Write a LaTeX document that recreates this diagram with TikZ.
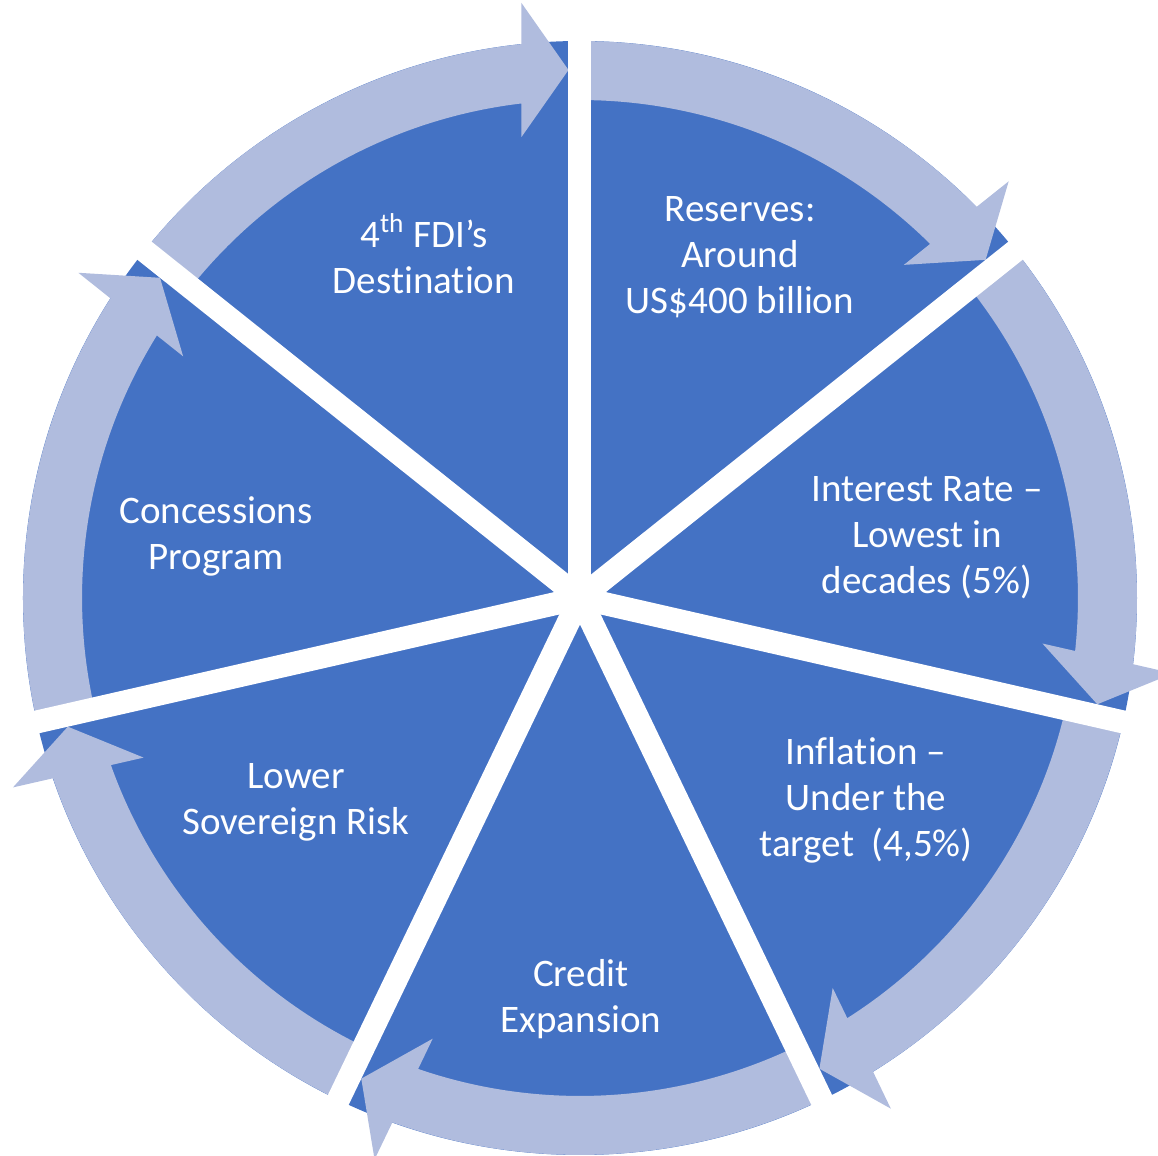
\documentclass[tikz,border=0pt]{standalone}
\usepackage{fontspec}
\setmainfont{Carlito}[Ligatures=NoCommon]
\definecolor{segblue}{RGB}{68,114,196}
\definecolor{ringblue}{RGB}{176,188,222}

\begin{document}
\begin{tikzpicture}[
    x=0.5pt,
    y=0.5pt,
    segtext/.style={text=white, align=center, font=\fontsize{19.5}{23}\selectfont},
    gapline/.style={draw=white, line width=11.5pt}]

    \useasboundingbox (-580,-558) rectangle (578,598);

    % Disc
    \fill[segblue] (0,0) circle (557);

    % Ring arrows, one per segment
    \foreach \n in {0,...,6} {
      \pgfmathsetmacro\ang{90 - \n*360/7}
      \begin{scope}[rotate=\ang]
        \fill[ringblue] (51.43:557) arc[start angle=51.43, end angle=6.03, radius=557]
          -- (595,58.5) -- (528,11.5) -- (461,58.5)
          -- (6.75:498) arc[start angle=6.75, end angle=51.43, radius=498] -- cycle;
      \end{scope}
    }

    % White gaps between segments
    \foreach \n in {0,...,6} {
      \pgfmathsetmacro\ang{90 - \n*360/7}
      \draw[gapline] (0,0) -- (\ang:565);
    }

    % Texts
    \node[segtext] (fdi) at (-156,344) {4\textsuperscript{th} FDI’s\\Destination};
    \node[segtext] (reserves) at (160,341) {Reserves:\\Around\\US\$400 billion};
    \node[segtext] (interest) at (347,60) {Interest Rate –\\Lowest in\\decades (5\%)};
    \node[segtext] (inflation) at (286,-202) {Inflation –\\Under the\\target~ (4,5\%)};
    \node[segtext] (credit) at (1,-401) {Credit\\Expansion};
    \node[segtext] (risk) at (-284,-204) {Lower\\Sovereign Risk};
    \node[segtext] (concessions) at (-364,62) {Concessions\\Program};
  \end{tikzpicture}
\end{document}
